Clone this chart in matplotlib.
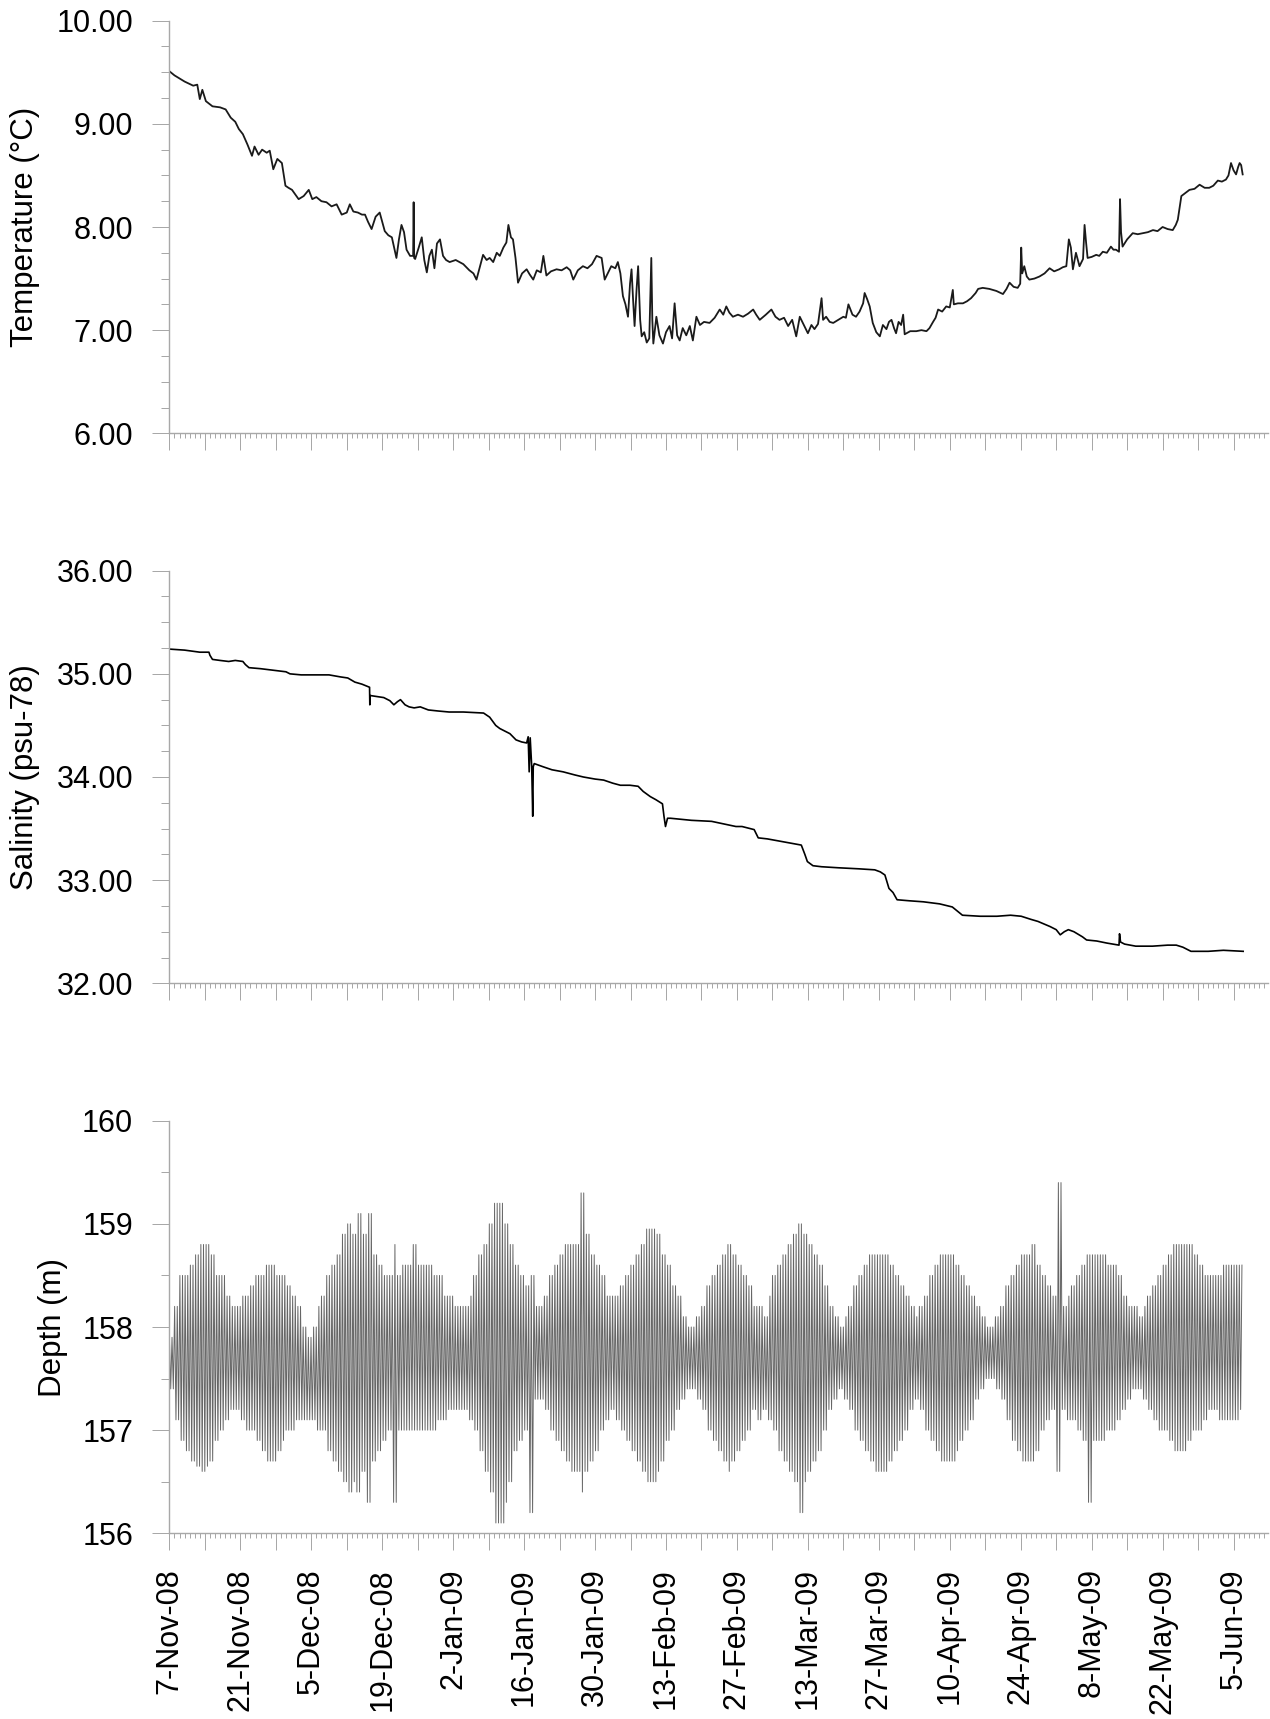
import numpy as np
import matplotlib
matplotlib.use('Agg')
import matplotlib.pyplot as plt
from matplotlib.ticker import MultipleLocator, FormatStrFormatter

plt.rcParams['font.family'] = ['Liberation Sans', 'DejaVu Sans']

# ---------------- data (x = days since 7-Nov-2008) ----------------
date_labels = ['7-Nov-08', '21-Nov-08', '5-Dec-08', '19-Dec-08', '2-Jan-09', '16-Jan-09',
               '30-Jan-09', '13-Feb-09', '27-Feb-09', '13-Mar-09', '27-Mar-09', '10-Apr-09',
               '24-Apr-09', '8-May-09', '22-May-09', '5-Jun-09']

temp_day = [0, 1, 2, 3, 4.7, 5.5, 6.0, 6.5, 7.2, 8.5,
            10, 11.1, 12.1, 13.0, 13.7, 14.5, 15.4, 16.3, 16.8, 17.6,
            18.3, 19.2, 19.8, 20.5, 21.3, 22.2, 22.9, 23.5, 24.2, 25.5,
            26.5, 27.5, 28.2, 29.0, 30, 31, 32, 33, 34, 35,
            35.6, 36.3, 37.2, 38.0, 38.6, 39.2, 39.9, 40.7, 41.5, 42.5,
            43.2, 43.9, 44.8, 45.3, 45.8, 46.3, 46.8, 47.5, 48.1, 48.2,
            48.3, 48.5, 49.2, 49.8, 50.3, 50.8, 51.3, 51.8, 52.3, 52.8,
            53.4, 54.0, 54.6, 55.3, 56.5, 58.0, 59.2, 60.0, 60.6, 61.3,
            61.9, 62.6, 63.2, 63.9, 64.6, 65.2, 65.9, 66.5, 66.9, 67.4,
            67.8, 68.3, 68.8, 69.6, 70.5, 71.1, 71.8, 72.5, 73.3, 73.8,
            74.4, 75.3, 76.4, 77.4, 78.4, 79.1, 79.7, 80.6, 81.6, 82.5,
            83.4, 84.3, 85.3, 85.9, 86.5, 87.2, 88.0, 88.5, 89.0, 89.5,
            90.0, 90.5, 90.9, 91.2, 91.5, 91.8, 92.2, 92.5, 92.9, 93.2,
            93.7, 94.2, 94.7, 95.1, 95.3, 95.5, 96.1, 96.7, 97.4, 98.0,
            98.7, 99.2, 99.7, 100.2, 100.7, 101.3, 102.0, 102.7, 103.3, 104.0,
            104.7, 105.5, 106.6, 107.6, 108.6, 109.3, 109.9, 110.5, 111.2, 112.2,
            113.2, 114.2, 115.2, 115.8, 116.5, 117.7, 118.8, 119.6, 120.4, 121.3,
            122.1, 122.9, 123.7, 124.4, 125.2, 126.0, 126.7, 127.3, 128.0, 128.7,
            129.0, 129.6, 130.3, 131.0, 132.0, 133.0, 133.5, 134.0, 134.8, 135.5,
            136.2, 136.9, 137.2, 137.7, 138.2, 138.8, 139.5, 140.2, 140.8, 141.5,
            142.0, 142.5, 143.0, 143.4, 143.9, 144.4, 144.8, 145.1, 146.2, 147.4,
            148.4, 149.4, 150.0, 150.7, 151.2, 151.7, 152.5, 153.3, 154.0, 154.6,
            154.8, 155.6, 156.6, 157.4, 158.2, 159.1, 159.6, 160.5, 161.8, 163.2,
            164.5, 165.2, 165.8, 166.6, 167.4, 167.9, 168.1, 168.3, 168.7, 169.2,
            169.7, 170.7, 171.7, 172.7, 173.7, 174.6, 175.6, 176.3, 177.0, 177.5,
            177.9, 178.3, 178.9, 179.6, 180.3, 180.6, 180.9, 181.2, 182.0, 182.9,
            183.5, 184.2, 185.0, 185.8, 186.3, 186.8, 187.4, 187.6, 187.8, 188.1,
            189.0, 190.1, 191.1, 192.1, 193.1, 194.1, 195.0, 196.0, 197.0, 198.0,
            198.6, 199.0, 199.4, 199.7, 200.5, 201.3, 202.3, 203.3, 204.3, 205.2,
            206.0, 206.9, 207.7, 208.5, 209.0, 209.5, 210.0, 210.5, 210.9, 211.2,
            211.5, 211.8]
temp_val = [9.51, 9.47, 9.44, 9.41, 9.37, 9.38, 9.24, 9.33, 9.22, 9.17,
            9.16, 9.14, 9.06, 9.02, 8.95, 8.90, 8.80, 8.69, 8.78, 8.70,
            8.75, 8.72, 8.74, 8.56, 8.66, 8.62, 8.40, 8.38, 8.36, 8.27,
            8.30, 8.36, 8.27, 8.29, 8.25, 8.24, 8.20, 8.22, 8.12, 8.14,
            8.22, 8.15, 8.14, 8.12, 8.12, 8.05, 7.98, 8.10, 8.14, 7.96,
            7.92, 7.90, 7.70, 7.88, 8.02, 7.95, 7.78, 7.72, 7.72, 8.24,
            7.70, 7.69, 7.80, 7.90, 7.68, 7.56, 7.72, 7.78, 7.60, 7.84,
            7.88, 7.72, 7.68, 7.66, 7.68, 7.64, 7.58, 7.55, 7.49, 7.62,
            7.73, 7.68, 7.70, 7.66, 7.75, 7.72, 7.80, 7.85, 8.02, 7.90,
            7.88, 7.70, 7.46, 7.55, 7.59, 7.54, 7.49, 7.58, 7.56, 7.72,
            7.53, 7.57, 7.59, 7.58, 7.61, 7.58, 7.49, 7.58, 7.62, 7.60,
            7.64, 7.72, 7.70, 7.49, 7.55, 7.62, 7.60, 7.66, 7.55, 7.33,
            7.25, 7.13, 7.45, 7.59, 7.30, 7.04, 7.40, 7.62, 7.10, 6.94,
            6.98, 6.88, 6.92, 7.70, 7.10, 6.87, 7.13, 6.95, 6.87, 6.98,
            7.04, 6.92, 7.26, 6.95, 6.90, 7.02, 6.95, 7.04, 6.90, 7.13,
            7.05, 7.08, 7.07, 7.12, 7.20, 7.15, 7.23, 7.17, 7.13, 7.15,
            7.13, 7.16, 7.20, 7.15, 7.10, 7.15, 7.20, 7.13, 7.10, 7.12,
            7.04, 7.10, 6.94, 7.13, 7.05, 6.97, 7.05, 7.01, 7.06, 7.31,
            7.10, 7.13, 7.08, 7.07, 7.10, 7.13, 7.12, 7.25, 7.15, 7.13,
            7.18, 7.26, 7.36, 7.30, 7.23, 7.07, 6.98, 6.94, 7.05, 7.01,
            7.08, 7.10, 7.02, 6.97, 7.08, 7.05, 7.15, 6.96, 6.99, 6.99,
            7.00, 6.99, 7.02, 7.08, 7.12, 7.20, 7.18, 7.23, 7.22, 7.39,
            7.25, 7.26, 7.26, 7.28, 7.31, 7.36, 7.40, 7.41, 7.40, 7.38,
            7.35, 7.40, 7.46, 7.42, 7.41, 7.45, 7.80, 7.55, 7.62, 7.52,
            7.49, 7.50, 7.52, 7.55, 7.60, 7.57, 7.59, 7.61, 7.62, 7.88,
            7.80, 7.59, 7.75, 7.62, 7.69, 8.02, 7.85, 7.70, 7.71, 7.73,
            7.72, 7.76, 7.75, 7.81, 7.78, 7.78, 7.76, 8.27, 7.95, 7.81,
            7.88, 7.94, 7.93, 7.94, 7.95, 7.97, 7.96, 8.00, 7.98, 7.97,
            8.02, 8.07, 8.20, 8.30, 8.33, 8.36, 8.37, 8.41, 8.38, 8.38,
            8.40, 8.45, 8.44, 8.46, 8.50, 8.62, 8.55, 8.51, 8.58, 8.62,
            8.60, 8.51]

sal_day = [0, 3, 6, 7.8, 8.0, 8.5, 10, 11.7, 13, 14.5,
           15.0, 15.7, 18, 21.3, 23.0, 23.8, 26, 29.4, 31.5, 33.8,
           35.2, 36.6, 38, 39.5, 39.55, 39.6, 41.0, 42.3, 43.5, 44.3,
           45.0, 45.6, 46.5, 47.3, 48.3, 49.5, 51.1, 53, 55.2, 58,
           62, 63.2, 64.4, 65.2, 66.4, 67.2, 68.4, 69.5, 70.5, 70.8,
           71.0, 71.2, 71.5, 71.7, 71.8, 72.0, 73.7, 75.5, 77.7, 80,
           81.7, 84, 85.7, 87.5, 89, 90.9, 92.5, 93.5, 94.9, 96,
           97.3, 97.6, 97.9, 98.3, 98.9, 103, 107, 111.8, 113, 115.4,
           116.2, 118, 121.4, 124.7, 125.4, 125.9, 127, 128.7, 132, 136,
           139.2, 140.3, 141.2, 142, 142.8, 143.6, 146, 148.8, 152, 154.5,
           155.5, 156.5, 160, 163.3, 166, 168.1, 170, 171.4, 173.8, 175,
           175.8, 176.6, 177.4, 178.5, 180.2, 181, 183, 185, 187.4, 187.5,
           187.7, 188.5, 190.7, 194, 197, 198.7, 200, 201.6, 205, 208,
           211.9]
sal_val = [35.24, 35.23, 35.21, 35.21, 35.18, 35.14, 35.13, 35.12, 35.13, 35.12,
           35.09, 35.06, 35.05, 35.03, 35.02, 35.00, 34.99, 34.99, 34.99, 34.97,
           34.96, 34.92, 34.90, 34.87, 34.70, 34.79, 34.78, 34.77, 34.74, 34.70,
           34.73, 34.75, 34.70, 34.68, 34.67, 34.68, 34.65, 34.64, 34.63, 34.63,
           34.62, 34.58, 34.50, 34.47, 34.44, 34.42, 34.36, 34.34, 34.33, 34.39,
           34.05, 34.38, 34.10, 33.62, 34.10, 34.13, 34.10, 34.07, 34.05, 34.02,
           34.00, 33.98, 33.97, 33.94, 33.92, 33.92, 33.91, 33.86, 33.81, 33.78,
           33.74, 33.62, 33.52, 33.60, 33.60, 33.58, 33.57, 33.52, 33.52, 33.49,
           33.41, 33.40, 33.37, 33.34, 33.25, 33.18, 33.14, 33.13, 33.12, 33.11,
           33.10, 33.08, 33.05, 32.92, 32.88, 32.81, 32.80, 32.79, 32.77, 32.74,
           32.70, 32.66, 32.65, 32.65, 32.66, 32.65, 32.62, 32.60, 32.55, 32.52,
           32.47, 32.50, 32.52, 32.50, 32.45, 32.42, 32.41, 32.39, 32.37, 32.48,
           32.40, 32.38, 32.36, 32.36, 32.37, 32.37, 32.35, 32.31, 32.31, 32.32,
           32.31]

# daily tidal envelope of depth (day 0 .. 211)
depth_upper = [157.9, 158.2, 158.5, 158.5, 158.6, 158.7, 158.8, 158.8, 158.7, 158.5,
               158.5, 158.3, 158.2, 158.2, 158.3, 158.3, 158.4, 158.5, 158.5, 158.6,
               158.6, 158.5, 158.5, 158.4, 158.3, 158.2, 158.0, 157.9, 158.0, 158.2,
               158.3, 158.5, 158.6, 158.7, 158.9, 159.0, 158.9, 159.1, 158.9, 159.1,
               158.7, 158.6, 158.5, 158.5, 158.8, 158.5, 158.6, 158.6, 158.8, 158.6,
               158.6, 158.6, 158.5, 158.5, 158.3, 158.3, 158.2, 158.2, 158.2, 158.3,
               158.5, 158.7, 158.8, 159.0, 159.2, 159.2, 159.0, 158.8, 158.6, 158.5,
               158.4, 158.5, 158.2, 158.2, 158.3, 158.5, 158.6, 158.7, 158.8, 158.8,
               158.8, 159.3, 158.9, 158.7, 158.6, 158.5, 158.3, 158.3, 158.3, 158.4,
               158.5, 158.6, 158.7, 158.8, 158.95, 158.95, 158.9, 158.7, 158.6, 158.4,
               158.3, 158.1, 158.0, 158.0, 158.1, 158.2, 158.4, 158.5, 158.6, 158.7,
               158.8, 158.7, 158.6, 158.5, 158.4, 158.2, 158.2, 158.1, 158.3, 158.5,
               158.6, 158.7, 158.8, 158.9, 159.0, 158.9, 158.8, 158.7, 158.6, 158.4,
               158.2, 158.1, 158.0, 158.1, 158.2, 158.4, 158.5, 158.6, 158.7, 158.7,
               158.7, 158.7, 158.6, 158.5, 158.4, 158.3, 158.2, 158.1, 158.2, 158.3,
               158.5, 158.6, 158.7, 158.7, 158.7, 158.6, 158.5, 158.4, 158.3, 158.2,
               158.1, 158.0, 158.0, 158.1, 158.2, 158.4, 158.5, 158.6, 158.7, 158.7,
               158.8, 158.6, 158.5, 158.4, 158.3, 159.4, 158.2, 158.3, 158.4, 158.5,
               158.6, 158.7, 158.7, 158.7, 158.7, 158.6, 158.6, 158.5, 158.3, 158.2,
               158.2, 158.1, 158.2, 158.3, 158.4, 158.5, 158.6, 158.7, 158.8, 158.8,
               158.8, 158.8, 158.7, 158.6, 158.5, 158.5, 158.5, 158.5, 158.6, 158.6,
               158.6, 158.6]
depth_lower = [157.4, 157.1, 156.9, 156.8, 156.7, 156.65, 156.6, 156.65, 156.7, 156.9,
               157.0, 157.1, 157.2, 157.2, 157.1, 157.0, 157.0, 156.9, 156.8, 156.7,
               156.7, 156.8, 156.9, 157.0, 157.0, 157.1, 157.1, 157.1, 157.1, 157.0,
               157.0, 156.8, 156.7, 156.6, 156.5, 156.4, 156.5, 156.4, 156.6, 156.3,
               156.7, 156.8, 156.9, 157.0, 156.3, 157.0, 157.0, 157.0, 157.0, 157.0,
               157.0, 157.0, 157.0, 157.1, 157.1, 157.2, 157.2, 157.2, 157.2, 157.1,
               157.0, 156.8, 156.6, 156.4, 156.1, 156.1, 156.3, 156.5, 156.8, 156.9,
               157.0, 156.2, 157.3, 157.3, 157.2, 157.0, 156.9, 156.8, 156.7, 156.6,
               156.6, 156.4, 156.6, 156.7, 156.8, 157.0, 157.1, 157.2, 157.1, 157.0,
               156.9, 156.8, 156.7, 156.6, 156.5, 156.5, 156.6, 156.7, 156.9, 157.0,
               157.2, 157.3, 157.4, 157.4, 157.3, 157.2, 157.0, 156.9, 156.8, 156.7,
               156.6, 156.7, 156.8, 156.9, 157.0, 157.2, 157.1, 157.2, 157.1, 157.0,
               156.8, 156.7, 156.6, 156.5, 156.2, 156.5, 156.6, 156.7, 156.8, 157.0,
               157.2, 157.3, 157.4, 157.3, 157.2, 157.0, 156.9, 156.8, 156.7, 156.6,
               156.6, 156.6, 156.7, 156.8, 156.9, 157.0, 157.2, 157.3, 157.2, 157.0,
               156.9, 156.8, 156.7, 156.7, 156.7, 156.8, 156.9, 157.0, 157.1, 157.3,
               157.4, 157.5, 157.5, 157.4, 157.3, 157.1, 156.9, 156.8, 156.7, 156.7,
               156.7, 156.8, 157.0, 157.1, 157.2, 156.6, 157.2, 157.1, 157.1, 157.0,
               156.9, 156.3, 156.9, 156.9, 156.9, 157.0, 157.0, 157.1, 157.2, 157.3,
               157.4, 157.4, 157.3, 157.2, 157.1, 157.0, 157.0, 156.9, 156.8, 156.8,
               156.8, 156.9, 157.0, 157.0, 157.1, 157.2, 157.2, 157.1, 157.1, 157.1,
               157.1, 157.2]
depth_end_day = 211.8

# ---------------- layout ----------------
W, H = 1270, 1719
fig = plt.figure(figsize=(12.7, 17.19), dpi=100)
left_px, right_px = 169.4, 1268
ax_h_px = 412.6
bottoms_px = [433.3, 983.3, 1533.3]
XMAX = 216.8
grey = '#a8a8a8'
FS_TICK = 22
FS_LABEL = 22.5

axes = []
for b in bottoms_px:
    axes.append(fig.add_axes([left_px / W, 1 - b / H, (right_px - left_px) / W, ax_h_px / H]))
ax1, ax2, ax3 = axes

week_ticks = list(range(0, 217, 7))
week_labels = [date_labels[i // 2] if i % 2 == 0 else '' for i in range(len(week_ticks))]
ax_w_px = right_px - left_px


def style(ax, ymin, ymax, major, minor, fmt, label, label_center_px, show_x):
    ax.set_xlim(0, XMAX)
    ax.set_ylim(ymin, ymax)
    for s in ['top', 'right']:
        ax.spines[s].set_visible(False)
    for s in ['left', 'bottom']:
        ax.spines[s].set_color(grey)
        ax.spines[s].set_linewidth(1.0)
    ax.yaxis.set_major_locator(MultipleLocator(major))
    ax.yaxis.set_minor_locator(MultipleLocator(minor))
    ax.yaxis.set_major_formatter(FormatStrFormatter(fmt))
    ax.set_xticks(week_ticks)
    ax.set_xticklabels(week_labels if show_x else [''] * len(week_ticks), rotation=90)
    ax.xaxis.set_minor_locator(MultipleLocator(1))
    ax.tick_params(axis='y', which='major', length=12.6, width=0.72, color=grey,
                   pad=13.5, labelsize=FS_TICK)
    ax.tick_params(axis='y', which='minor', length=5.8, width=0.72, color=grey)
    ax.tick_params(axis='x', which='major', length=12.4, width=0.72, color=grey,
                   pad=12.5, labelsize=FS_TICK)
    ax.tick_params(axis='x', which='minor', length=3.6, width=0.72, color=grey)
    ax.set_ylabel(label, fontsize=FS_LABEL)
    ax.yaxis.set_label_coords((label_center_px - left_px) / ax_w_px, 0.5)
    ax.yaxis.label.set_verticalalignment('center')


# temperature
ax1.plot(temp_day, temp_val, color='#1a1a1a', lw=1.3)
style(ax1, 6.0, 10.0, 1.0, 0.25, '%.2f', 'Temperature (°C)', 25, False)

# salinity
ax2.plot(sal_day, sal_val, color='black', lw=1.2)
style(ax2, 32.0, 36.0, 1.0, 0.25, '%.2f', 'Salinity (psu-78)', 25, False)

# depth: semi-diurnal tide drawn between daily envelope values
half_tide = 12.42 / 24.0 / 2.0
t = np.arange(0.0, depth_end_day, half_tide)
di = np.minimum(t.astype(int), len(depth_upper) - 1)
up = np.asarray(depth_upper)[di]
lo = np.asarray(depth_lower)[di]
dv = np.where(np.arange(len(t)) % 2 == 0, up, lo)
ax3.plot(t, dv, color='#666666', lw=0.7)
style(ax3, 156, 160, 1, 0.5, '%d', 'Depth (m)', 53, True)

fig.savefig('out.png', dpi=100)
